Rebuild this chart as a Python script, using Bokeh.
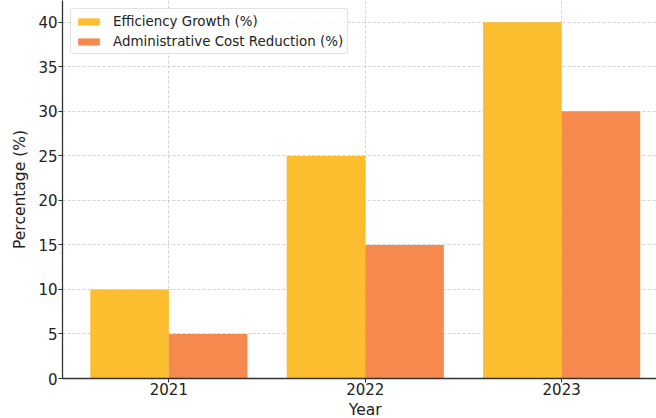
from bokeh.plotting import figure
from bokeh.models import Range1d, FixedTicker, ColumnDataSource, Legend, LegendItem, Label
from bokeh.transform import dodge
from bokeh.embed import file_html
from bokeh.resources import INLINE

years = ["2021", "2022", "2023"]
efficiency_growth = [10, 25, 40]
admin_cost_reduction = [5, 15, 30]
y_ticks = [0, 5, 10, 15, 20, 25, 30, 35, 40]

x_idx = list(range(len(years)))
src = ColumnDataSource(dict(x=x_idx, eff=efficiency_growth, adm=admin_cost_reduction))

W, H = 656, 418
BOTTOM = 40
LEFT = 62
FONT = "DejaVu Sans"
p = figure(width=W, height=H, output_backend="svg", toolbar_location=None,
           x_range=Range1d(-0.5415, 2.483), y_range=Range1d(0, 42.45),
           min_border_left=LEFT, min_border_right=0, min_border_top=0,
           min_border_bottom=BOTTOM)
p.outline_line_color = None
p.background_fill_color = "white"
p.border_fill_color = "white"

r1 = p.vbar(x=dodge("x", -0.2, range=p.x_range), top="eff", width=0.4, source=src,
            fill_color="#fcbd2f", line_color=None)
r2 = p.vbar(x=dodge("x", 0.2, range=p.x_range), top="adm", width=0.4, source=src,
            fill_color="#f68a4e", line_color=None)

# axes
p.xaxis.ticker = FixedTicker(ticks=x_idx)
p.xaxis.major_label_overrides = {i: y for i, y in enumerate(years)}
p.yaxis.ticker = FixedTicker(ticks=y_ticks)
for ax in (p.xaxis[0], p.yaxis[0]):
    ax.axis_line_color = "#333333"
    ax.axis_line_width = 1.3
    ax.major_tick_line_color = "#333333"
    ax.major_tick_line_width = 1.0
    ax.major_tick_out = 4
    ax.major_tick_in = 0
    ax.minor_tick_out = 0
    ax.minor_tick_in = 0
    ax.major_label_text_font = FONT
    ax.major_label_text_font_size = "15px"
    ax.major_label_text_color = "#222222"
    ax.axis_label_text_font = FONT
    ax.axis_label_text_font_size = "15.5px"
    ax.axis_label_text_font_style = "normal"
    ax.axis_label_text_color = "#222222"
p.yaxis.axis_label = "Percentage (%)"
p.xaxis.major_label_standoff = 0
p.yaxis.major_label_standoff = 1
p.yaxis.axis_label_standoff = 6

# x-axis title drawn as a label in the bottom panel, centred under the middle category
p.add_layout(Label(x=sum(x_idx) / len(x_idx), y=6, x_units="data", y_units="screen",
                   text="Year", text_align="center", text_baseline="middle",
                   text_font=FONT, text_font_size="15.5px", text_color="#222222"), "below")

# grid
p.xgrid.ticker = FixedTicker(ticks=x_idx)
p.ygrid.ticker = FixedTicker(ticks=y_ticks)
for g in (p.xgrid[0], p.ygrid[0]):
    g.grid_line_color = "#c8c8c8"
    g.grid_line_dash = "3 2"
    g.grid_line_width = 0.8

frame_h = H - BOTTOM
leg_h = 44
legend = Legend(items=[LegendItem(label="Efficiency Growth (%)", renderers=[r1]),
                       LegendItem(label="Administrative Cost Reduction (%)", renderers=[r2])],
                location=(8, frame_h - 10 - leg_h))
legend.label_text_font = FONT
legend.label_text_font_size = "13.4px"
legend.label_text_color = "#222222"
legend.glyph_width = 27
legend.glyph_height = 9
legend.label_standoff = 11
legend.label_height = 16
legend.spacing = 4
legend.padding = 4
legend.margin = 0
legend.border_line_color = "#c8c8c8"
legend.border_line_width = 1
legend.background_fill_color = "white"
legend.background_fill_alpha = 0.8
if "border_radius" in Legend.properties():
    legend.border_radius = 3
p.add_layout(legend, "center")

open("out.html", "w").write(file_html(p, INLINE))
